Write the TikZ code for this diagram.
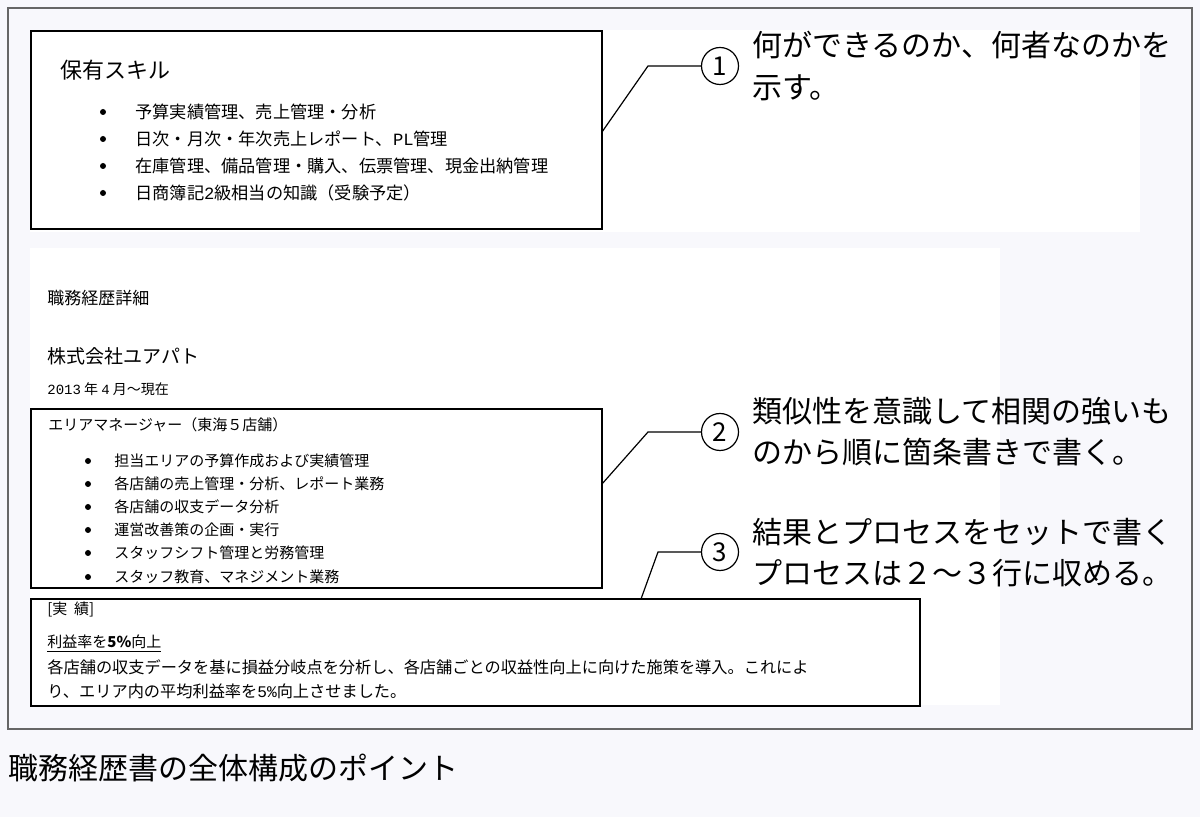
\documentclass[tikz,border=0pt]{standalone}
\usepackage{fontspec}
\setmainfont{Noto Sans CJK JP}
\newfontfamily\monolat{Liberation Mono}
\begin{document}
\begin{tikzpicture}[x=0.5pt,y=-0.5pt,
  box/.style={draw=black,line width=0.6pt},
  body/.style={anchor=west,inner sep=0,font=\fontsize{7.5}{9}\selectfont},
  bul/.style={fill=black,circle,inner sep=0,minimum size=3pt},
  call/.style={anchor=west,inner sep=0,font=\fontsize{15}{18}\selectfont},
  num/.style={draw=black,circle,line width=0.6pt,minimum size=18.5pt,inner sep=0,font=\fontsize{13}{13}\selectfont},
  lead/.style={draw=black,line width=0.6pt}]
\fill[fill={rgb,255:red,248;green,248;blue,252}] (0,0) rectangle (1200,817);
\useasboundingbox (0,0) rectangle (1200,817);
\fill[white] (30,30) rectangle (1140,232);
\fill[white] (30,248) rectangle (1000,705);
\draw[draw=gray!80!black,line width=0.6pt] (8,8) rectangle (1192,729);
% box 1
\draw[box] (31,31) rectangle (602,229);
\node[body,font=\fontsize{11}{13}\selectfont] (t1) at (60,70) {保有スキル};
\foreach \y/\t in {112/予算実績管理、売上管理・分析,139/日次・月次・年次売上レポート、{\monolat PL}管理,166/在庫管理、備品管理・購入、伝票管理、現金出納管理,193/日商簿記{\monolat 2}級相当の知識（受験予定）}{
  \node[bul] at (103,\y) {};
  \node[body,font=\fontsize{8.6}{10}\selectfont] at (135,\y) {\t};}
% callout 1
\coordinate (a1) at (602,132);
\node[num] (n1) at (720,66) {1};
\draw[lead] (a1) -- (648,66) -- (n1.west);
\node[call] (c1a) at (752,45) {何ができるのか、何者なのかを};
\node[call] (c1b) at (752,88) {示す。};
% section
\node[body,font=\fontsize{8.5}{10}\selectfont] (s1) at (47,298) {職務経歴詳細};
\node[body,font=\fontsize{9.5}{11}\selectfont] (s2) at (47,356) {株式会社ユアパト};
\node[body,font=\fontsize{7}{8}\selectfont] (s3) at (47,389) {{\monolat 2013} 年 {\monolat 4} 月〜現在};
% box 2
\draw[box] (31,409) rectangle (602,588);
\node[body] (t2) at (48,425) {エリアマネージャー（東海５店舗）};
\foreach \y/\t in {461/担当エリアの予算作成および実績管理,484/各店舗の売上管理・分析、レポート業務,507/各店舗の収支データ分析,530/運営改善策の企画・実行,553/スタッフシフト管理と労務管理,577/スタッフ教育、マネジメント業務}{
  \node[bul] at (88,\y) {};
  \node[body] at (114,\y) {\t};}
% callout 2
\coordinate (a2) at (602,484);
\node[num] (n2) at (720,432) {2};
\draw[lead] (a2) -- (648,432) -- (n2.west);
\node[call] (c2a) at (752,411) {類似性を意識して相関の強いも};
\node[call] (c2b) at (752,452) {のから順に箇条書きで書く。};
% box 3
\draw[box] (31,599) rectangle (920,706);
\node[body] (t3) at (47,609) {[実\ \ 績]};
\node[body] (r1) at (47,644) {\underline{利益率を{\bfseries 5\%}向上}};
\node[body,font=\fontsize{8.1}{10}\selectfont] (r2) at (47,667) {各店舗の収支データを基に損益分岐点を分析し、各店舗ごとの収益性向上に向けた施策を導入。これによ};
\node[body,font=\fontsize{8.1}{10}\selectfont] (r3) at (47,691) {り、エリア内の平均利益率を{\monolat 5\%}向上させました。};
% callout 3
\coordinate (a3) at (641,599);
\node[num] (n3) at (720,552) {3};
\draw[lead] (a3) -- (658,552) -- (n3.west);
\node[call] (c3a) at (752,532) {結果とプロセスをセットで書く};
\node[call] (c3b) at (752,573) {プロセスは２〜３行に収める。};
% caption
\node[call] (cap) at (8,768) {職務経歴書の全体構成のポイント};
\end{tikzpicture}
\end{document}
